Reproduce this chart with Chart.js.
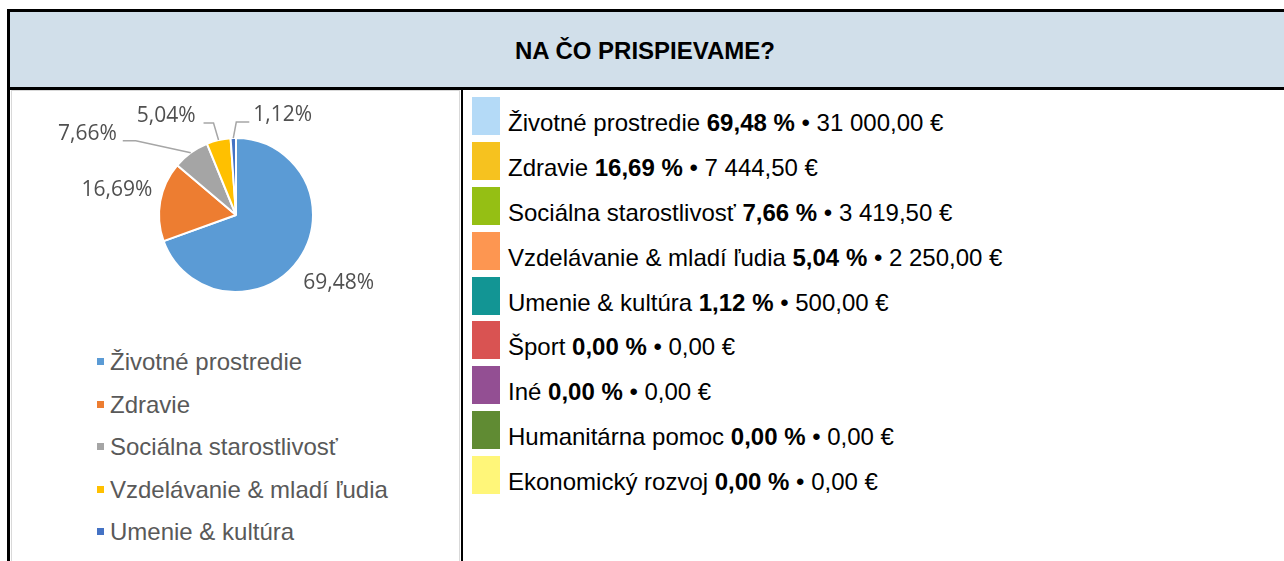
<!DOCTYPE html>
<html lang="sk">
<head>
<meta charset="utf-8">
<title>Na čo prispievame?</title>
<script src="https://cdn.jsdelivr.net/npm/chart.js@4/dist/chart.umd.min.js"></script>
<style>
    html, body { margin: 0; padding: 0; background: #fff; }
    body { width: 1284px; height: 561px; overflow: hidden; position: relative; font-family: "Liberation Sans", Arial, sans-serif; }
    .tabulka { position: absolute; left: 7px; top: 9px; width: 1300px; height: 700px; border: 3px solid #000; box-sizing: border-box; }
    .hlavicka { position: absolute; left: 10px; top: 12px; width: 1290px; height: 75px; background: #d1dfea; border-bottom: 3px solid #000; }
    .hlavicka span { position: absolute; left: 635px; top: 0; transform: translateX(-50%); line-height: 78px; font-weight: bold; font-size: 24px; color: #000; white-space: nowrap; }
    .delic { position: absolute; left: 461px; top: 90px; width: 2px; height: 500px; background: #000; }
    .ramcek { position: absolute; left: 11px; top: 90px; width: 449px; height: 600px; border: 1px solid #d9d9d9; box-sizing: border-box; }
    #grafWrap { position: absolute; left: 11px; top: 91px; width: 450px; height: 250px; }
    #legendaGraf { position: absolute; left: 96px; top: 341px; margin: 0; padding: 0; list-style: none; }
    #legendaGraf li { position: relative; height: 42.5px; line-height: 42px; font-size: 24px; color: #595959; padding-left: 14px; white-space: nowrap; }
    #legendaGraf li i { position: absolute; left: 1px; top: 17px; width: 7px; height: 7px; }
    #zoznam { position: absolute; left: 472px; top: 97px; margin: 0; padding: 0; list-style: none; }
    #zoznam li { position: relative; height: 44.9px; }
    #zoznam li i { position: absolute; left: 0; top: 0; width: 28px; height: 38px; }
    #zoznam li span { position: absolute; left: 36px; top: 0; line-height: 38px; padding-top: 7px; font-size: 24px; color: #000; white-space: nowrap; }
</style>
</head>
<body>
<div class="tabulka"></div>
<div class="hlavicka"><span>NA ČO PRISPIEVAME?</span></div>
<div class="ramcek"></div>
<div class="delic"></div>
<div id="grafWrap"><canvas id="prispevkyChart" width="450" height="250"></canvas></div>
<ul id="legendaGraf"></ul>
<ul id="zoznam"></ul>

<script>
// Kategórie a sumy príspevkov (€)
const kategorie = ['Životné prostredie', 'Zdravie', 'Sociálna starostlivosť', 'Vzdelávanie & mladí ľudia',
    'Umenie & kultúra', 'Šport', 'Iné', 'Humanitárna pomoc', 'Ekonomický rozvoj'];
const sumy = [31000, 7444.5, 3419.5, 2250, 500, 0, 0, 0, 0];

// Farby koláčového grafu (Excel paleta) a farby zoznamu vpravo
const farbyGraf = ['#5b9bd5', '#ed7d31', '#a5a5a5', '#ffc000', '#4472c4', '#70ad47', '#264478', '#9e480e', '#636363'];
const farbyZoznam = ['#b4daf7', '#f6c21f', '#95bf14', '#fd9651', '#129594', '#d95352', '#934f93', '#608b33', '#fff679'];

const spolu = sumy.reduce((s, v) => s + v, 0);
const percento = v => (v / spolu * 100).toFixed(2).replace('.', ',');
const euro = v => {
    const [cele, des] = v.toFixed(2).split('.');
    return cele.replace(/\B(?=(\d{3})+(?!\d))/g, '\u00a0') + ',' + des + '\u00a0€';
};

// Popisky s percentami okolo koláča
const popiskyKolaca = {
    id: 'popiskyKolaca',
    afterDatasetsDraw(chart, args, opts) {
        const ctx = chart.ctx;
        const meta = chart.getDatasetMeta(0);
        ctx.save();
        ctx.font = opts.font;
        ctx.fillStyle = opts.color;
        ctx.textBaseline = 'middle';
        meta.data.forEach((arc, i) => {
            const v = sumy[i];
            if (!v) return;
            const p = arc.getProps(['x', 'y', 'startAngle', 'endAngle', 'outerRadius'], true);
            const mid = (p.startAngle + p.endAngle) / 2;
            const text = percento(v) + '%';
            const ciara = opts.ciary[i];
            if (!ciara) {
                const d = p.outerRadius + opts.odstup;
                ctx.textAlign = 'center';
                ctx.fillText(text, p.x + Math.cos(mid) * d + 2, p.y + Math.sin(mid) * d - 3);
                return;
            }
            const ex = p.x + Math.cos(mid) * p.outerRadius;
            const ey = p.y + Math.sin(mid) * p.outerRadius;
            const bx = ex + ciara.dx, by = ey + ciara.dy;
            const hx = bx + ciara.smer * ciara.dlzka;
            ctx.strokeStyle = '#a6a6a6';
            ctx.lineWidth = 1.5;
            ctx.beginPath();
            ctx.moveTo(ex, ey);
            ctx.lineTo(bx, by);
            ctx.lineTo(hx, by);
            ctx.stroke();
            ctx.textAlign = ciara.smer < 0 ? 'right' : 'left';
            ctx.fillText(text, hx + ciara.smer * ciara.medzera, by - 7);
        });
        ctx.restore();
    }
};

document.addEventListener('DOMContentLoaded', function () {
    const ctx = document.getElementById('prispevkyChart').getContext('2d');
    new Chart(ctx, {
        type: 'pie',
        data: {
            labels: kategorie,
            datasets: [{
                data: sumy,
                backgroundColor: farbyGraf,
                borderColor: '#ffffff',
                borderWidth: 2
            }]
        },
        options: {
            responsive: false,
            animation: false,
            devicePixelRatio: 1,
            layout: { padding: { left: 147, right: 147, top: 46, bottom: 48 } },
            plugins: {
                legend: { display: false },
                tooltip: { enabled: false },
                popiskyKolaca: {
                    font: '21px "Open Sans", sans-serif',
                    color: '#505050',
                    odstup: 46,
                    ciary: {
                        2: { dx: -55, dy: -12, dlzka: 13, smer: -1, medzera: 6 },
                        3: { dx: -5, dy: -17, dlzka: 10, smer: -1, medzera: 8 },
                        4: { dx: 3, dy: -16, dlzka: 13, smer: 1, medzera: 4 }
                    }
                }
            }
        },
        plugins: [popiskyKolaca]
    });

    // Legenda pod grafom (len kategórie s nenulovou sumou)
    const legenda = document.getElementById('legendaGraf');
    kategorie.forEach((k, i) => {
        if (!sumy[i]) return;
        const li = document.createElement('li');
        li.innerHTML = `<i style="background:${farbyGraf[i]}"></i>${k}`;
        legenda.appendChild(li);
    });

    // Zoznam vpravo
    const zoznam = document.getElementById('zoznam');
    kategorie.forEach((k, i) => {
        const li = document.createElement('li');
        li.innerHTML = `<i style="background:${farbyZoznam[i]}"></i><span>${k} <b>${percento(sumy[i])}\u00a0%</b> • ${euro(sumy[i])}</span>`;
        zoznam.appendChild(li);
    });
});
</script>
</body>
</html>
